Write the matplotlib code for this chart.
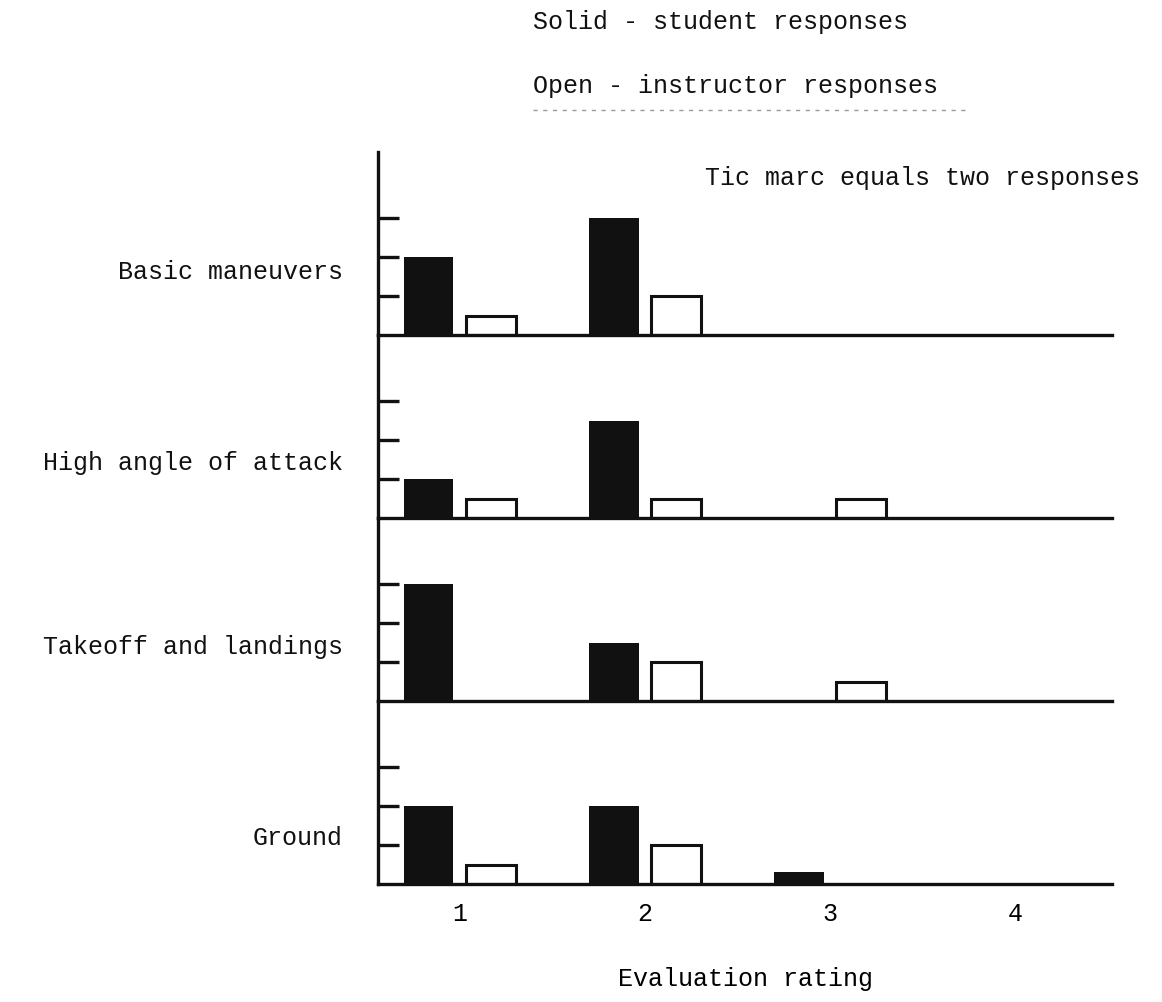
import matplotlib.pyplot as plt
import numpy as np

plt.rcParams['font.family'] = ['Liberation Mono', 'DejaVu Sans Mono']

categories = ['Basic maneuvers', 'High angle of attack',
              'Takeoff and landings', 'Ground']
ratings = [1, 2, 3, 4]
# responses per evaluation rating 1..4
student = [
    [4, 6, 0, 0],
    [2, 5, 0, 0],
    [6, 3, 0, 0],
    [4, 4, 0.6, 0],
]
instructor = [
    [1, 2, 0, 0],
    [1, 1, 1, 0],
    [0, 2, 1, 0],
    [1, 2, 0, 0],
]
tick_responses = [2, 4, 6]   # one tic marc = two responses

ink = '#111111'
W, H = 1162, 1003
fig = plt.figure(figsize=(W / 100, H / 100), dpi=100)
gs = fig.add_gridspec(4, 1, left=378 / W, right=1112 / W,
                      top=1 - 153 / H, bottom=1 - 885 / H, hspace=0)

label_y = [3.3, 2.9, 2.8, 2.4]
x = np.array(ratings, dtype=float)
for i, cat in enumerate(categories):
    ax = fig.add_subplot(gs[i])
    ax.patch.set_visible(False)
    s = np.array(student[i], dtype=float)
    o = np.array(instructor[i], dtype=float)
    ax.bar(x[s > 0] - 0.17, s[s > 0], width=0.27, color=ink, zorder=2)
    ax.bar(x[o > 0] + 0.17, o[o > 0], width=0.27, facecolor='white',
           edgecolor=ink, linewidth=2.2, zorder=2)

    ax.set_xlim(0.557, 4.524)
    ax.set_ylim(0, 9.4)
    for side in ['top', 'right']:
        ax.spines[side].set_visible(False)
    for side in ['left', 'bottom']:
        ax.spines[side].set_linewidth(2.4)
        ax.spines[side].set_color(ink)
        ax.spines[side].set_zorder(3)

    ax.set_yticks(tick_responses)
    ax.tick_params(axis='y', direction='in', length=15, width=2.4,
                   color=ink, labelleft=False)
    ax.set_xticks(ratings)
    if i < 3:
        ax.tick_params(axis='x', length=0, labelbottom=False)
    else:
        ax.tick_params(axis='x', length=0, pad=12, labelsize=18)
        ax.set_xlabel('Evaluation rating', fontsize=18, labelpad=30)

    ax.text(-0.048, label_y[i], cat, transform=ax.get_yaxis_transform(),
            ha='right', va='center', fontsize=18, color=ink)

fig.text(533 / W, 1 - 22 / H, 'Solid - student responses',
         ha='left', va='center', fontsize=18, color=ink)
fig.text(533 / W, 1 - 86 / H, 'Open - instructor responses',
         ha='left', va='center', fontsize=18, color=ink)
fig.add_artist(plt.Line2D([533 / W, 970 / W], [1 - 111 / H, 1 - 111 / H],
                          color='#999999', lw=1, ls=(0, (3, 4))))
fig.text(1140 / W, 1 - 178 / H, 'Tic marc equals two responses',
         ha='right', va='center', fontsize=18, color=ink)

fig.savefig('out.png', dpi=100, facecolor='white')
